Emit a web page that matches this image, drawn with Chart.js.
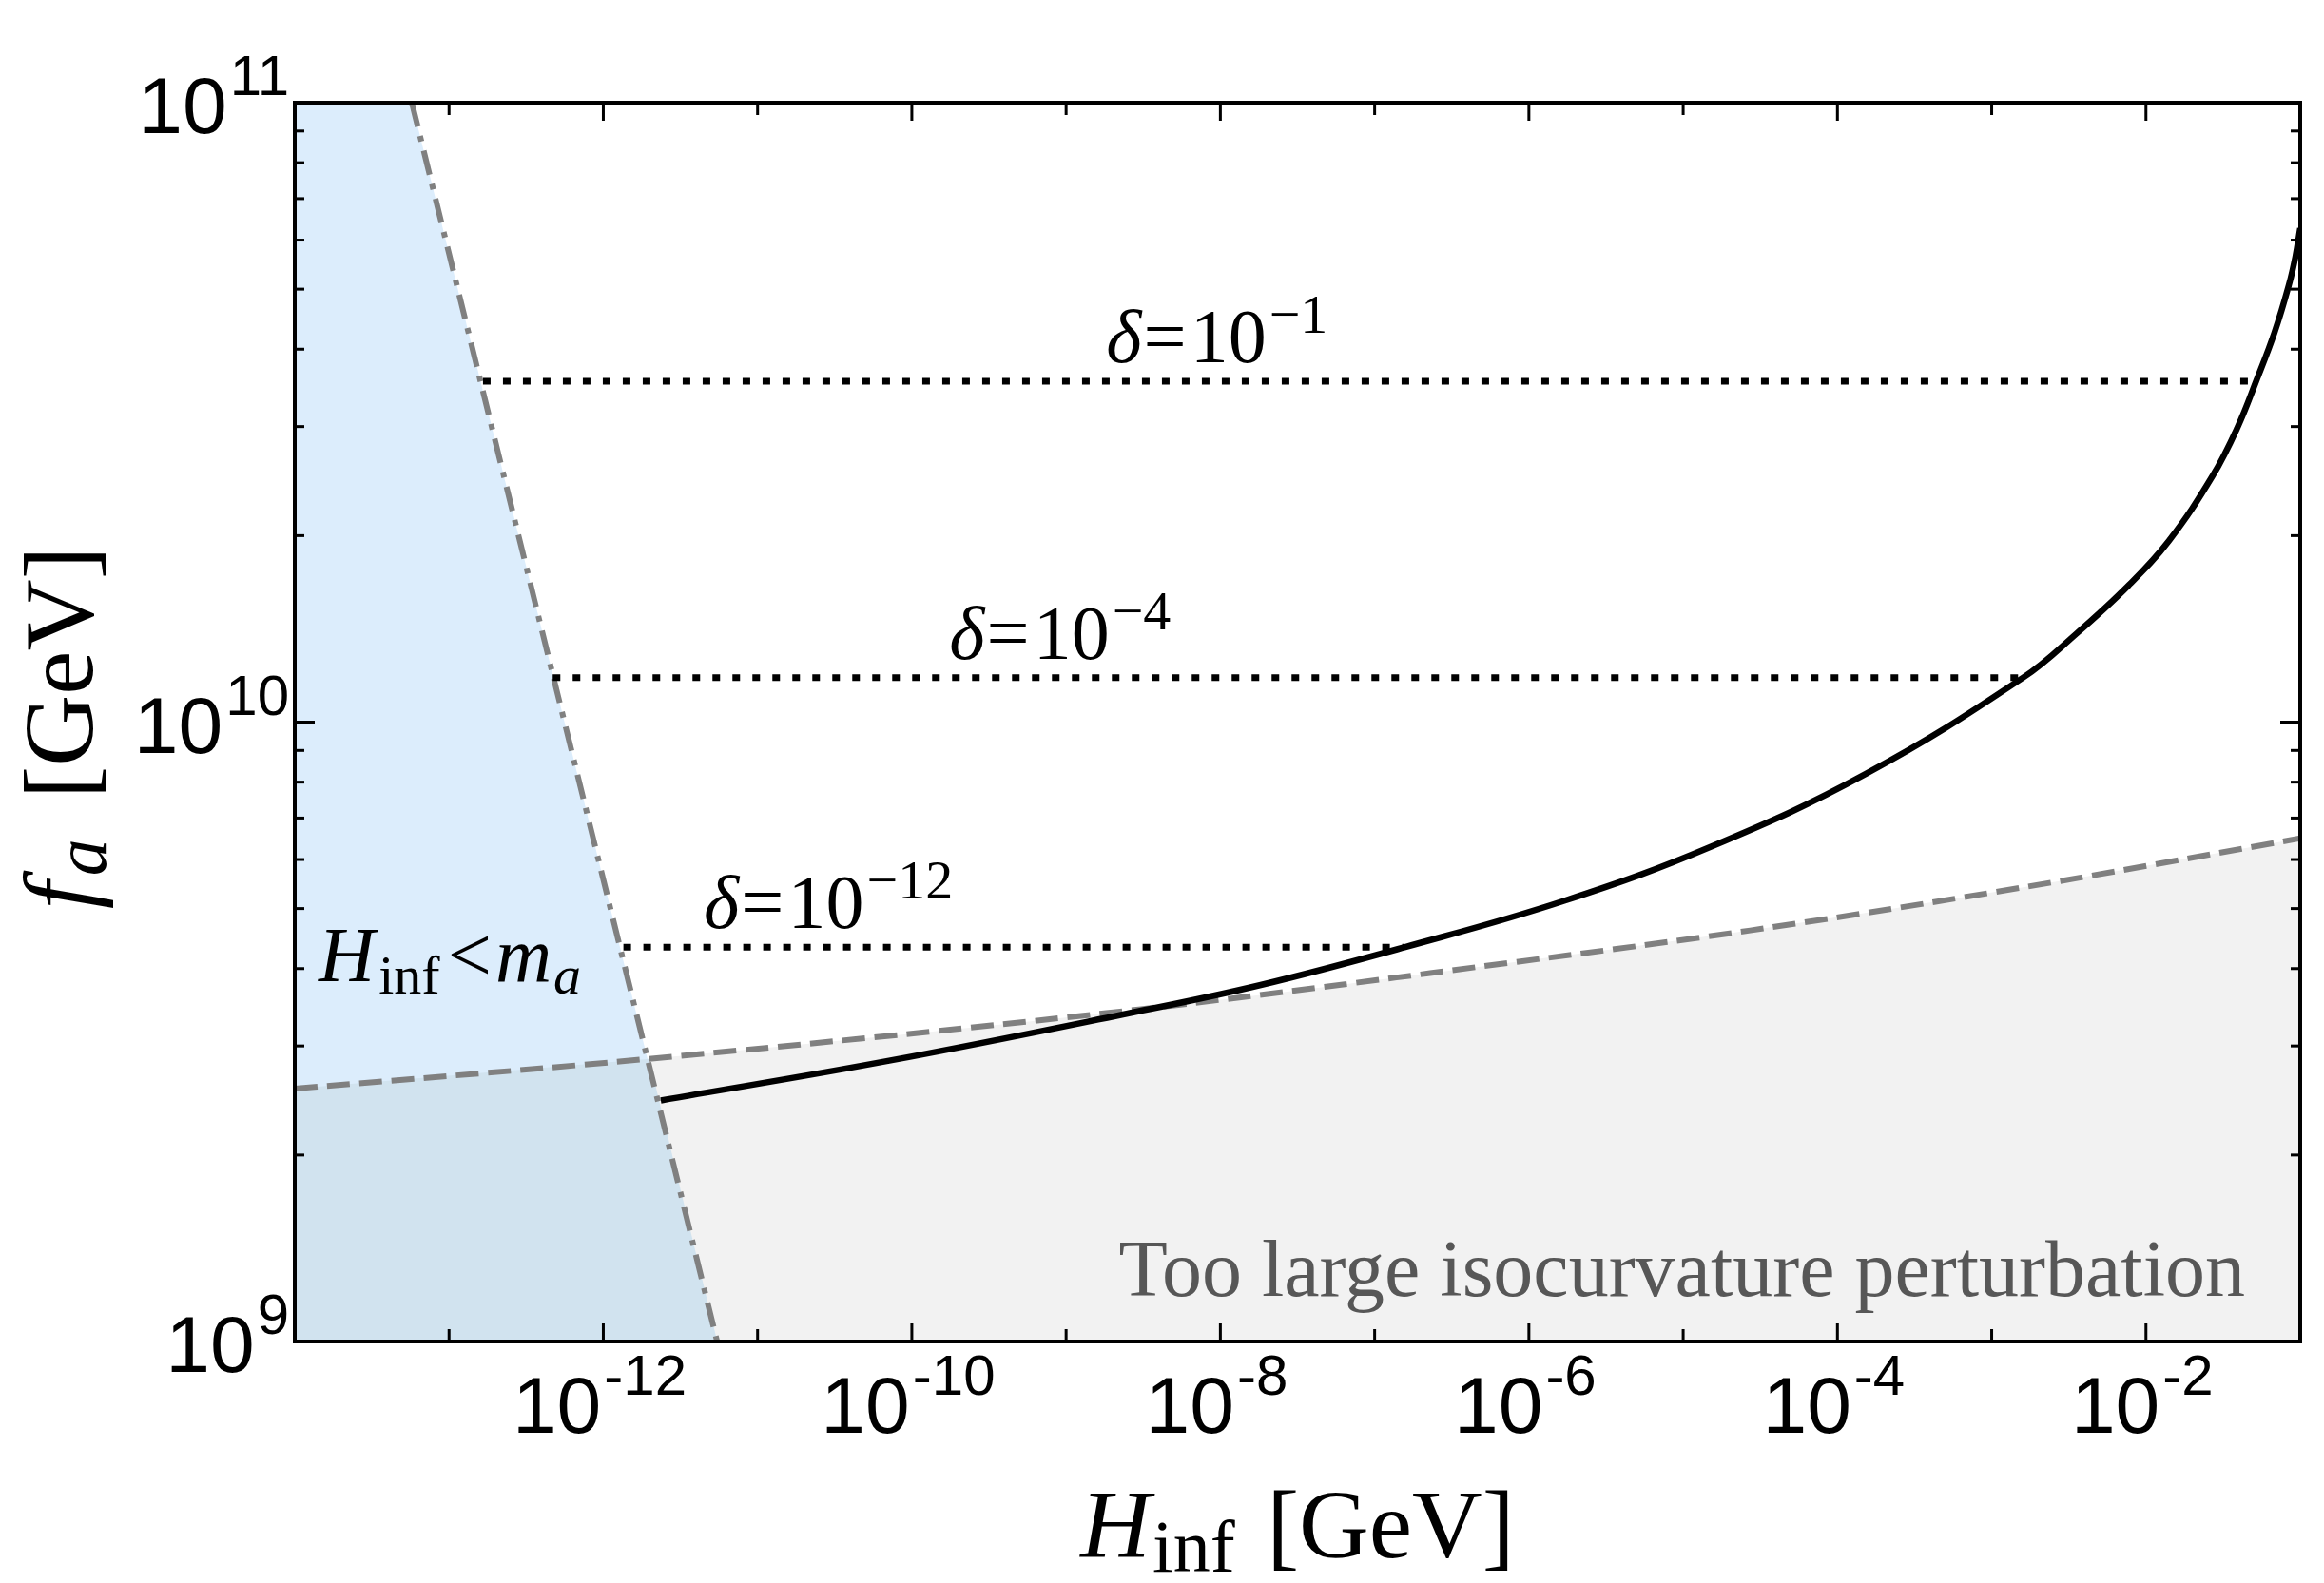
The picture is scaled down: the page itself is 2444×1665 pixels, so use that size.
<!DOCTYPE html>
<html>
<head>
<meta charset="utf-8">
<title>f_a vs H_inf</title>
<script src="https://cdn.jsdelivr.net/npm/chart.js@4.4.1/dist/chart.umd.min.js"></script>
<style>
  html, body { margin: 0; padding: 0; background: #fff; }
  #wrap { width: 2444px; height: 1665px; }
</style>
</head>
<body>
<div id="wrap"><canvas id="myChart" width="2444" height="1665"></canvas></div>
<script>
// axis ranges and ticks
const hRange = [1e-14, 1e-1];
const faRange = [1e9, 1e11];
const xMajorPow = [-12, -10, -8, -6, -4, -2];
const xMinorPow = [-13, -11, -9, -7, -5, -3];
const yMajorPow = [9, 10, 11];

// too large isocurvature bound (gray dashed)
const isoH  = [1e-14, 1.98e-12, 3.06e-9, 4.85e-7, 2.72e-5, 1.60e-3, 1e-1];
const isoFa = [2.56e9, 2.86e9, 3.44e9, 4.03e9, 4.61e9, 5.41e9, 6.49e9];

// solid black curve
const curveH  = [2.36e-12, 7.13e-11, 2.30e-9, 1.80e-8, 1.56e-7, 1.71e-6, 1.53e-5, 1.53e-4, 1.60e-3,
                 3.55e-3, 7.67e-3, 1.41e-2, 2.71e-2, 3.92e-2, 5.20e-2, 6.82e-2, 8.43e-2, 9.31e-2, 1e-1];
const curveFa = [2.45e9, 2.84e9, 3.37e9, 3.76e9, 4.33e9, 5.15e9, 6.30e9, 8.25e9, 1.18e10,
                 1.39e10, 1.66e10, 1.963e10, 2.50e10, 2.99e10, 3.56e10, 4.26e10, 5.07e10, 5.64e10, 6.27e10];

// H_inf = m_a line (dash-dot)
const maH  = [5.74e-14, 5.47e-12];
const maFa = [1e11, 1e9];

// where the two boundaries cross
const crossH  = [1.98e-12];
const crossFa = [2.86e9];

// delta = const lines (dotted)
const deltaExp    = ['\u22121', '\u22124', '\u221212'];
const deltaFa     = [3.55e10, 1.18e10, 4.33e9];
const deltaStartH = [1.66e-13, 4.70e-13, 1.35e-12];
const deltaEndH   = [5.20e-2, 1.67e-3, 1.56e-7];
const deltaLabelH = [1.82e-9, 1.75e-10, 4.48e-12];

const pts = (xs, ys) => xs.map((x, i) => ({x: x, y: ys[i]}));

const sans = '"Liberation Sans", Arial, sans-serif';
const serif = '"Liberation Serif", "Times New Roman", serif';

const datasets = [];

// filled regions (drawn first: higher order)
datasets.push({
    data: pts(isoH, isoFa), fill: 'start', backgroundColor: '#f2f2f2',
    borderColor: 'transparent', borderWidth: 0, cubicInterpolationMode: 'monotone', order: 20
});
datasets.push({
    data: [{x: hRange[0], y: faRange[1]}].concat(pts(maH, maFa)), fill: 'start', backgroundColor: '#dcedfc',
    borderColor: 'transparent', borderWidth: 0, order: 19
});
datasets.push({
    data: [{x: isoH[0], y: isoFa[0]}].concat(pts(crossH, crossFa), [{x: maH[1], y: maFa[1]}]),
    fill: 'start', backgroundColor: '#d1e3ef', borderColor: 'transparent', borderWidth: 0, order: 18
});

// lines
datasets.push({
    data: pts(isoH, isoFa), borderColor: '#808080', borderWidth: 6, borderDash: [24, 10],
    cubicInterpolationMode: 'monotone', fill: false, order: 6
});
datasets.push({
    data: pts(maH, maFa), borderColor: '#808080', borderWidth: 6, borderDash: [26, 10, 6, 10],
    fill: false, order: 5
});
deltaFa.forEach((fa, i) => {
    datasets.push({
        data: [{x: deltaStartH[i], y: fa}, {x: deltaEndH[i], y: fa}],
        borderColor: '#000', borderWidth: 7, borderDash: [8, 13], borderCapStyle: 'butt',
        fill: false, order: 4
    });
});
datasets.push({
    data: pts(curveH, curveFa), borderColor: '#000', borderWidth: 6.5,
    tension: 0.4, fill: false, order: 1
});

// draw a row of text pieces (for sub/superscripts)
const drawRuns = (ctx, runs, x, y, align) => {
    let total = 0;
    runs.forEach(r => {
        ctx.font = r.font;
        r.w = ctx.measureText(r.text).width + (r.pre || 0);
        total += r.w;
    });
    let cx = align === 'center' ? x - total / 2 : (align === 'right' ? x - total : x);
    runs.forEach(r => {
        ctx.font = r.font;
        ctx.fillStyle = r.color || '#000';
        ctx.fillText(r.text, cx + (r.pre || 0), y + (r.dy || 0));
        cx += r.w;
    });
};

const powRuns = (p) => [
    {text: '10', font: `84px ${sans}`},
    {text: String(p), font: `60px ${sans}`, dy: -40, pre: 3}
];

const overlay = {
    id: 'overlay',
    afterDraw(chart) {
        const ctx = chart.ctx, a = chart.chartArea;
        const xs = chart.scales.x, ys = chart.scales.y;
        ctx.save();
        ctx.strokeStyle = '#000';
        ctx.fillStyle = '#000';
        ctx.textBaseline = 'alphabetic';
        ctx.textAlign = 'left';

        const seg = (x1, y1, x2, y2) => { ctx.beginPath(); ctx.moveTo(x1, y1); ctx.lineTo(x2, y2); ctx.stroke(); };

        // ticks, inward on all four sides
        ctx.lineWidth = 3;
        const xt = (v, len) => {
            const px = xs.getPixelForValue(v);
            seg(px, a.bottom, px, a.bottom - len);
            seg(px, a.top, px, a.top + len);
        };
        const yt = (v, len) => {
            const py = ys.getPixelForValue(v);
            seg(a.left, py, a.left + len, py);
            seg(a.right, py, a.right - len, py);
        };
        xMajorPow.forEach(p => xt(Math.pow(10, p), 19));
        xMinorPow.forEach(p => xt(Math.pow(10, p), 13));
        yMajorPow.forEach(p => yt(Math.pow(10, p), 21));
        [9, 10].forEach(p => { for (let m = 2; m <= 9; m++) yt(m * Math.pow(10, p), 10); });

        // frame
        ctx.lineWidth = 4;
        ctx.strokeRect(a.left, a.top, a.right - a.left, a.bottom - a.top);

        // tick labels
        xMajorPow.forEach(p => {
            drawRuns(ctx, powRuns(p), xs.getPixelForValue(Math.pow(10, p)) - 4, a.bottom + 96, 'center');
        });
        yMajorPow.forEach(p => {
            drawRuns(ctx, powRuns(p), a.left - 6, ys.getPixelForValue(Math.pow(10, p)) + 32, 'right');
        });

        // axis titles
        drawRuns(ctx, [
            {text: 'H', font: `italic 102px ${serif}`},
            {text: 'inf', font: `78px ${serif}`, dy: 15, pre: 2},
            {text: ' [GeV]', font: `102px ${serif}`, pre: 8}
        ], (a.left + a.right) / 2, 1638, 'center');

        ctx.save();
        ctx.translate(97, (a.top + a.bottom) / 2 + 6);
        ctx.rotate(-Math.PI / 2);
        drawRuns(ctx, [
            {text: 'f', font: `italic 104px ${serif}`},
            {text: 'a', font: `italic 78px ${serif}`, dy: 14, pre: 6},
            {text: ' [GeV]', font: `104px ${serif}`, pre: 16}
        ], 0, 0, 'center');
        ctx.restore();

        // delta labels
        deltaFa.forEach((fa, i) => {
            drawRuns(ctx, [
                {text: '\u03b4', font: `italic 80px ${serif}`},
                {text: '=', font: `80px ${serif}`, pre: 2},
                {text: '10', font: `80px ${serif}`, pre: 4},
                {text: deltaExp[i], font: `58px ${serif}`, dy: -31, pre: 3}
            ], xs.getPixelForValue(deltaLabelH[i]), ys.getPixelForValue(fa) - 20, 'left');
        });

        // region labels
        drawRuns(ctx, [
            {text: 'H', font: `italic 82px ${serif}`},
            {text: 'inf', font: `58px ${serif}`, dy: 13, pre: 4},
            {text: '<', font: `82px ${serif}`, pre: 8},
            {text: 'm', font: `italic 82px ${serif}`, pre: 4},
            {text: 'a', font: `italic 58px ${serif}`, dy: 13, pre: 2}
        ], a.left + 25, 1032, 'left');

        drawRuns(ctx, [
            {text: 'Too large isocurvature perturbation', font: `84px ${serif}`, color: '#575757'}
        ], a.right - 58, 1363, 'right');

        ctx.restore();
    }
};

const ctx1 = document.getElementById('myChart').getContext('2d');
const myChart = new Chart(ctx1, {
    type: 'line',
    data: { datasets: datasets },
    options: {
        responsive: false,
        devicePixelRatio: 1,
        animation: false,
        layout: { padding: { left: 310, right: 25, top: 108, bottom: 254 } },
        elements: { point: { radius: 0, hoverRadius: 0 } },
        plugins: {
            legend: { display: false },
            tooltip: { enabled: false },
            title: { display: false }
        },
        scales: {
            x: { type: 'logarithmic', min: hRange[0], max: hRange[1], display: false },
            y: { type: 'logarithmic', min: faRange[0], max: faRange[1], display: false }
        }
    },
    plugins: [overlay]
});
</script>
</body>
</html>
